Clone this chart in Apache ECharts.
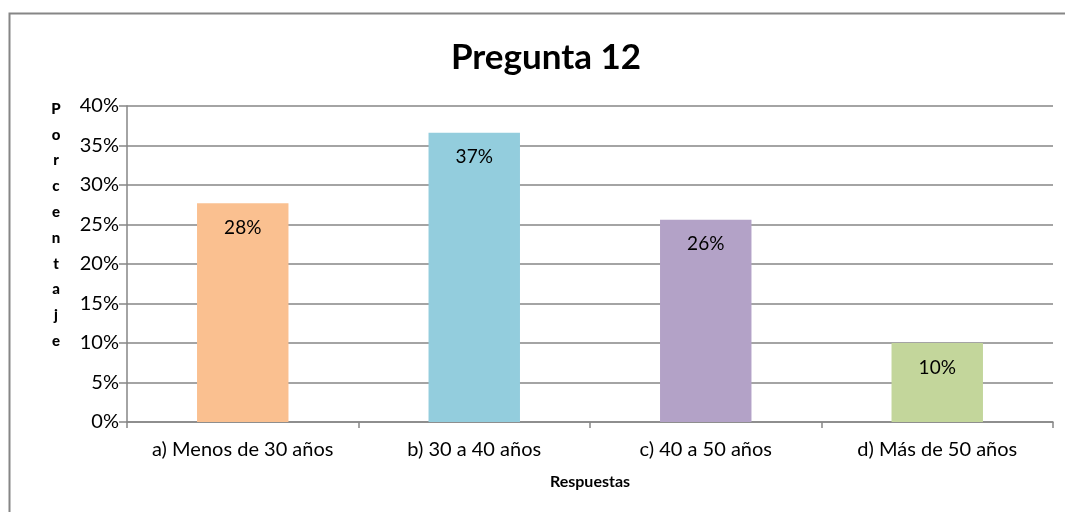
<!DOCTYPE html>
<html>
<head>
<meta charset="utf-8">
<script src="https://cdn.jsdelivr.net/npm/echarts@6/dist/echarts.min.js"></script>
<style>
html,body{margin:0;padding:0;background:#fff;}
#c{width:1065px;height:512px;}
</style>
</head>
<body>
<div id="c"></div>
<script>
const title = 'Pregunta 12';
const categories = ['a) Menos de 30 años', 'b) 30 a 40 años', 'c) 40 a 50 años', 'd) Más de 50 años'];
const values = [27.7, 36.6, 25.6, 10.0];
const labels = ['28%', '37%', '26%', '10%'];
const colors = ['#FAC090', '#93CDDD', '#B3A2C7', '#C3D69B'];
const yTicks = [0, 5, 10, 15, 20, 25, 30, 35, 40];
const xName = 'Respuestas';
const yName = 'Porcentaje';

const FONT = 'Lato, "Open Sans", sans-serif';
const chart = echarts.init(document.getElementById('c'), null, {renderer: 'canvas'});
chart.setOption({
  animation: false,
  backgroundColor: '#fff',
  title: {
    text: title, left: 541, top: 35, textAlign: 'center',
    textStyle: {fontFamily: FONT, fontSize: 35, fontWeight: 'bold', color: '#000'}
  },
  grid: {left: 127, right: 12, top: 106, bottom: 90},
  graphic: [
    {type: 'polyline', silent: true, shape: {points: [[9.5, 520], [9.5, 13.5], [1070, 13.5]]},
     style: {stroke: '#868686', lineWidth: 2, fill: null}},
    {type: 'text', x: 56, y: 96, silent: true,
     style: {text: yName.split('').join('\n'), fontFamily: 'Lato', fontSize: 15, fontWeight: 900, fill: '#000',
             lineHeight: 25.8, align: 'center', verticalAlign: 'top'}}
  ],
  xAxis: {
    type: 'category', data: categories,
    name: xName, nameLocation: 'middle', nameGap: 52,
    nameTextStyle: {fontFamily: FONT, fontSize: 16, fontWeight: 'bold', color: '#000'},
    axisLine: {lineStyle: {color: '#868686', width: 1.5}},
    axisTick: {show: true, length: 6, lineStyle: {color: '#868686', width: 1.5}},
    axisLabel: {fontFamily: FONT, fontSize: 20, color: '#000', margin: 18, interval: 0}
  },
  yAxis: {
    type: 'value', min: 0, max: 40, interval: 5,
    axisLine: {show: true, lineStyle: {color: '#868686', width: 1.5}},
    axisTick: {show: true, length: 8, lineStyle: {color: '#868686', width: 1.5}},
    axisLabel: {fontFamily: FONT, fontSize: 20, color: '#000', margin: 8,
                formatter: v => yTicks.includes(v) ? v + '%' : ''},
    splitLine: {lineStyle: {color: '#868686', width: 1.5}}
  },
  series: [{
    type: 'bar', barWidth: '39.5%',
    data: values.map((v, i) => ({value: v, itemStyle: {color: colors[i]}})),
    label: {show: true, position: 'insideTop', distance: 15,
            fontFamily: FONT, fontSize: 19, color: '#000',
            formatter: p => labels[p.dataIndex]}
  }]
});
</script>
</body>
</html>
